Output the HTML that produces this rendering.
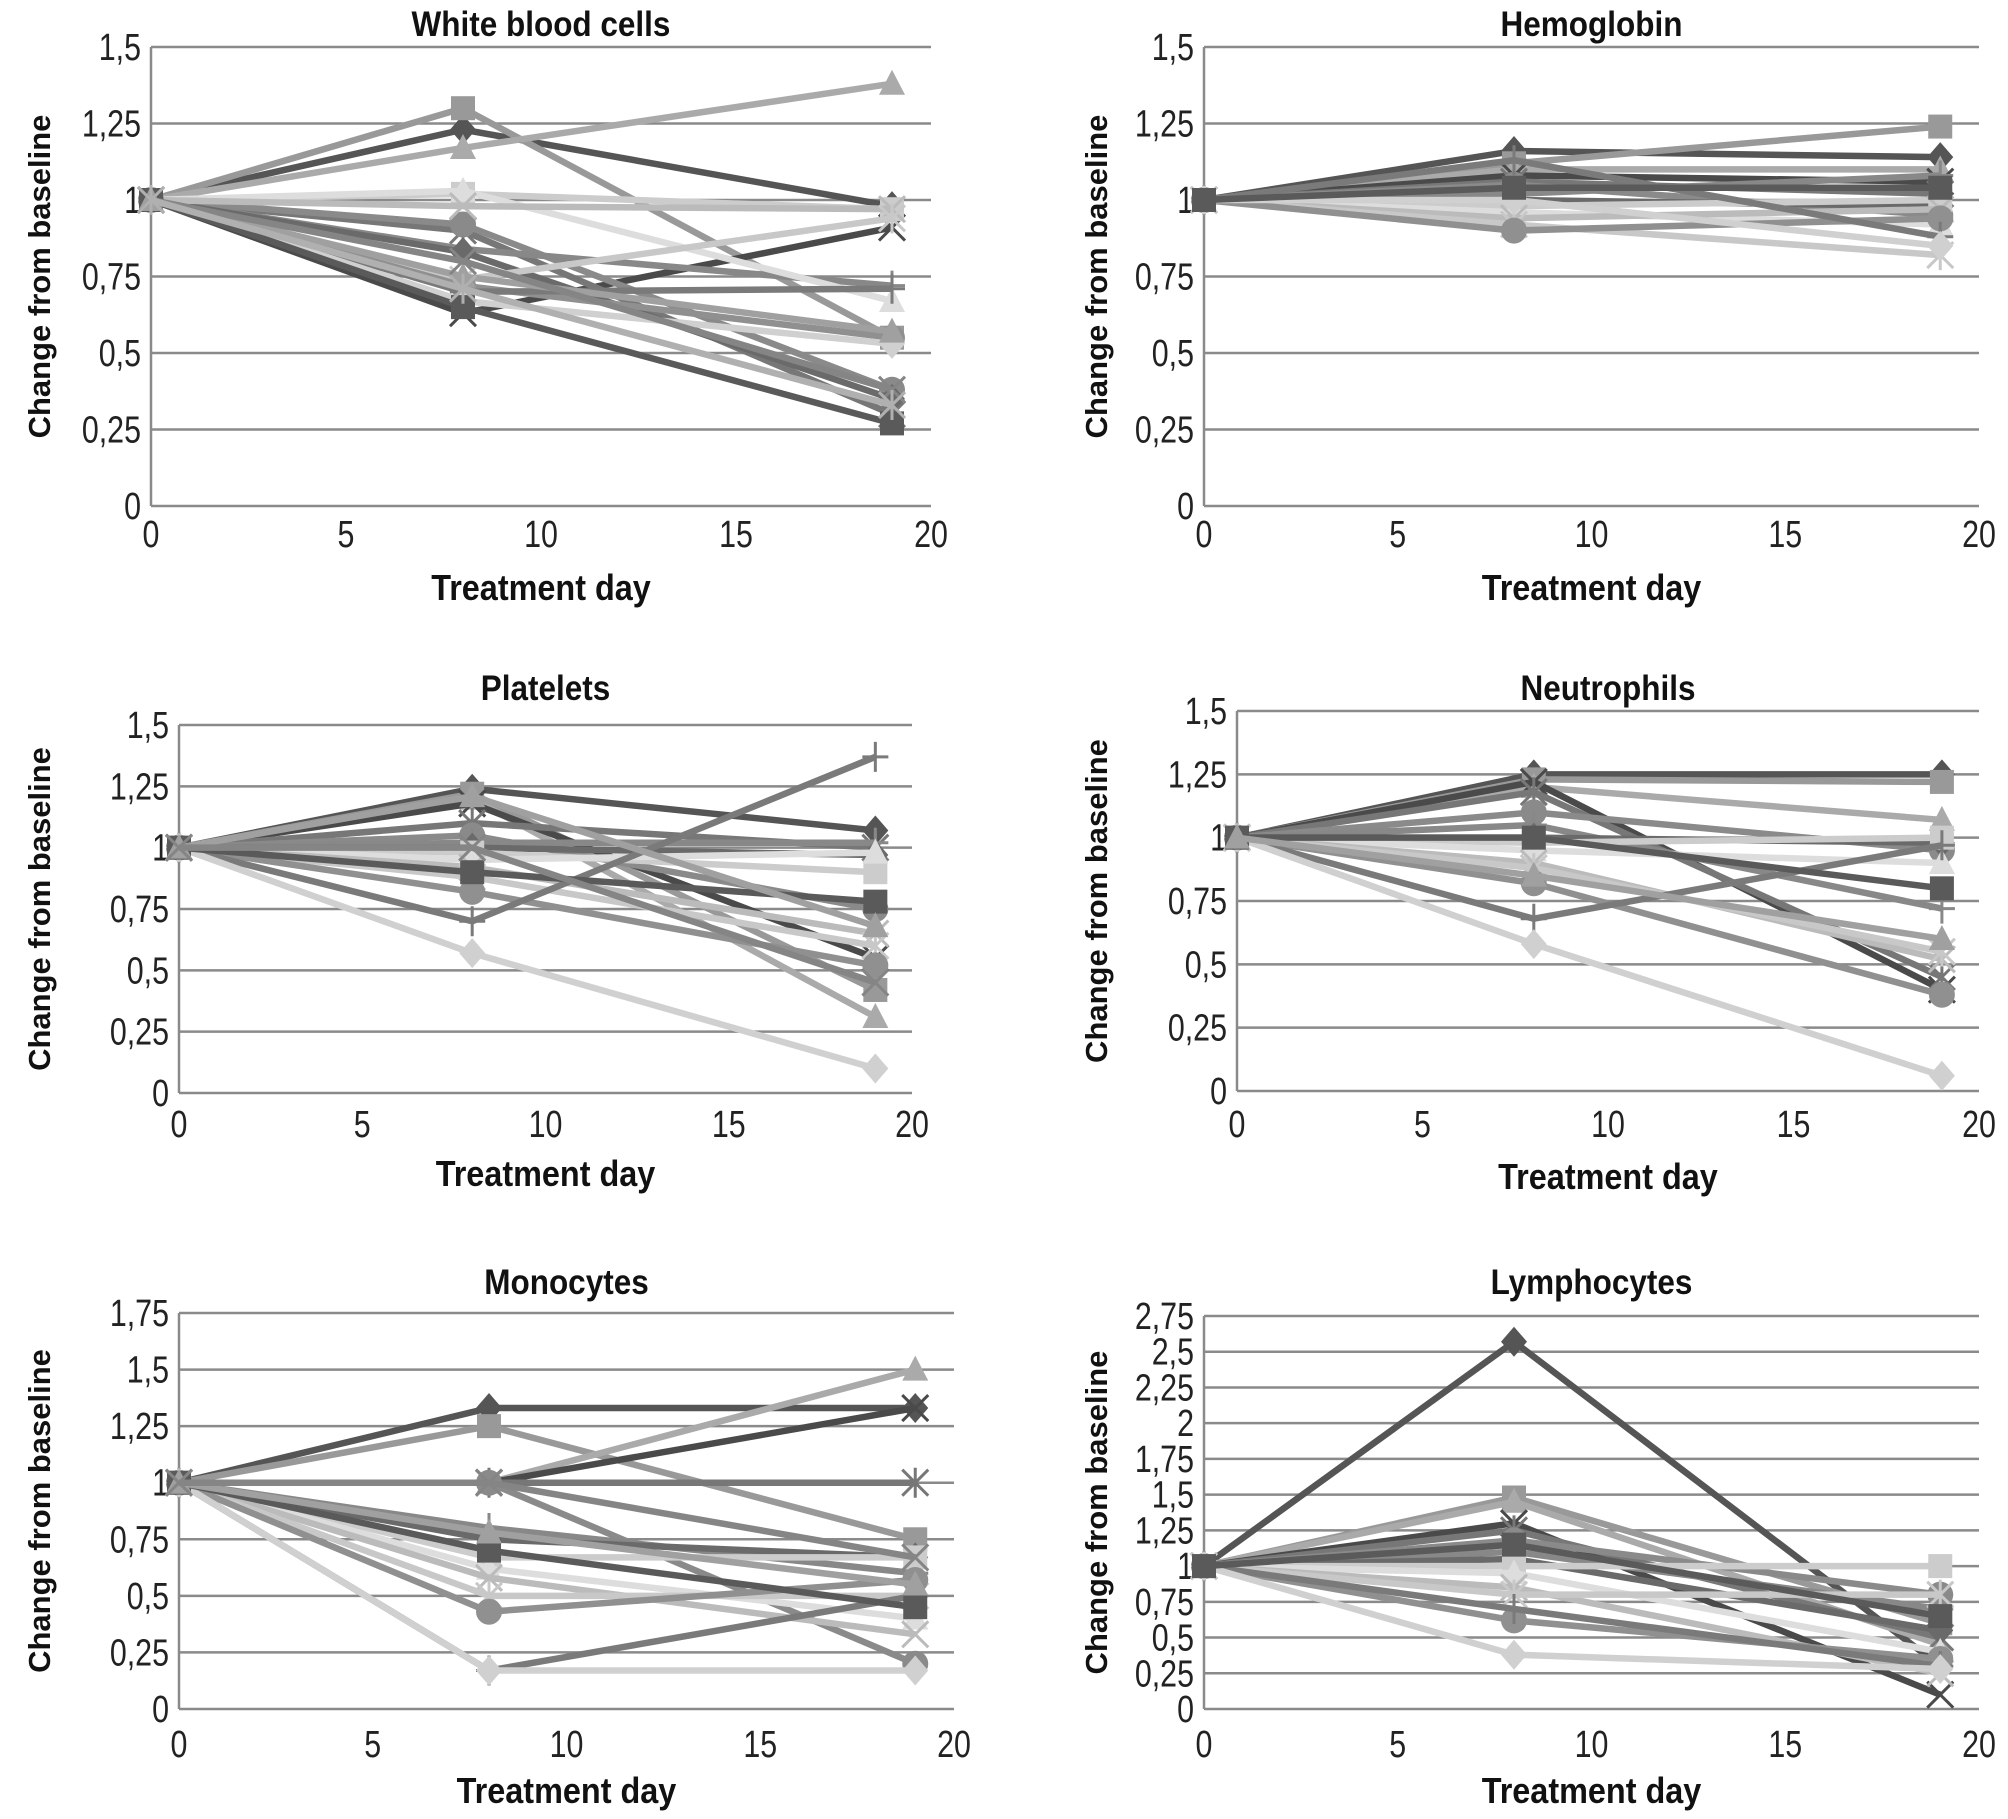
<!DOCTYPE html>
<html><head><meta charset="utf-8">
<style>
html,body{margin:0;padding:0;background:#fff;}
svg{display:block;}
text{font-family:"Liberation Sans",sans-serif;}
</style></head>
<body>
<svg id="fig" width="2008" height="1819" viewBox="0 0 2008 1819" xmlns="http://www.w3.org/2000/svg"></svg>
<script>
const days = [0, 8, 19];
const xTicks = [0, 5, 10, 15, 20];
const wbcD8  = [1.23,1.30,1.17,0.63,0.90,0.92,0.84,0.83,1.02,1.03,0.98,0.74,0.72,0.70,0.67,0.65,0.75,0.80,0.71];
const wbcD19 = [0.98,0.55,1.38,0.91,0.30,0.38,0.72,0.35,0.97,0.67,0.97,0.94,0.55,0.71,0.53,0.27,0.57,0.38,0.33];
const hgbD8  = [1.16,1.12,1.10,1.08,1.06,1.05,1.02,1.00,0.98,0.96,0.94,0.92,0.90,1.13,1.00,1.04];
const hgbD19 = [1.14,1.24,1.10,1.06,1.02,0.95,1.08,0.98,1.00,0.92,0.97,0.82,0.94,0.88,0.85,1.04];
const pltD8  = [1.24,1.22,1.20,1.18,1.10,1.05,1.02,1.00,0.98,0.95,0.92,0.88,0.82,0.70,0.57,0.90,1.21,1.00];
const pltD19 = [1.07,0.42,0.31,0.55,1.00,0.75,1.02,0.97,0.90,0.98,0.65,0.60,0.52,1.37,0.10,0.78,0.68,0.45];
const neuD8  = [1.25,1.23,1.20,1.22,1.18,1.10,1.05,1.00,0.98,0.95,0.90,0.88,0.82,0.68,0.58,1.00,0.85];
const neuD19 = [1.25,1.22,1.07,0.40,0.45,0.95,0.72,0.98,1.00,0.90,0.52,0.55,0.38,0.97,0.06,0.80,0.60];
const monD8  = [1.33,1.25,1.00,1.00,1.00,1.00,0.80,0.75,0.67,0.62,0.58,0.50,0.43,0.17,0.17,0.70,0.78,1.00];
const monD19 = [1.33,0.75,1.50,1.33,1.00,0.20,0.60,0.67,0.67,0.40,0.33,0.50,0.57,0.50,0.17,0.45,0.55,0.67];
const lymD8  = [2.57,1.48,1.45,1.30,1.25,1.18,1.10,1.05,1.00,0.95,0.85,0.80,0.62,0.70,0.38,1.15];
const lymD19 = [0.30,0.60,0.45,0.10,0.50,0.80,0.70,0.55,1.00,0.40,0.25,0.80,0.35,0.30,0.28,0.65];

const greys = ['#555','#999','#aaa','#4a4a4a','#777','#8a8a8a','#888','#6a6a6a','#ccc','#ddd','#bbb','#c8c8c8','#909090','#7a7a7a','#d0d0d0','#5a5a5a','#a0a0a0','#858585','#b0b0b0'];
const markers = ['diamond','square','triangle','x','star','circle','plus'];

const panels = [
 {name:'White blood cells',key:'wbc',d8:wbcD8,d19:wbcD19,x0:151,x1:931,yTop:47,yBot:506,yMax:1.5,titleY:36,tickY:547,xtY:600,ytX:50},
 {name:'Hemoglobin',key:'hgb',d8:hgbD8,d19:hgbD19,x0:1204,x1:1979,yTop:47,yBot:506,yMax:1.5,titleY:36,tickY:547,xtY:600,ytX:1107},
 {name:'Platelets',key:'plt',d8:pltD8,d19:pltD19,x0:179,x1:912,yTop:725,yBot:1093,yMax:1.5,titleY:700,tickY:1137,xtY:1186,ytX:50},
 {name:'Neutrophils',key:'neu',d8:neuD8,d19:neuD19,x0:1237,x1:1979,yTop:711,yBot:1091,yMax:1.5,titleY:700,tickY:1137,xtY:1189,ytX:1107},
 {name:'Monocytes',key:'mon',d8:monD8,d19:monD19,x0:179,x1:954,yTop:1313,yBot:1709,yMax:1.75,titleY:1294,tickY:1757,xtY:1803,ytX:50},
 {name:'Lymphocytes',key:'lym',d8:lymD8,d19:lymD19,x0:1204,x1:1979,yTop:1316,yBot:1709,yMax:2.75,titleY:1294,tickY:1757,xtY:1803,ytX:1107}
];
const NS='http://www.w3.org/2000/svg';
const svg=document.getElementById('fig');
function mk(tag,attrs,parent){const e=document.createElementNS(NS,tag);for(const k in attrs)e.setAttribute(k,attrs[k]);(parent||svg).appendChild(e);return e;}
function fmt(v){return String(+v.toFixed(2)).replace('.',',');}
function sx(x,f){return `translate(${x},0) scale(${f},1) translate(${-x},0)`;}

function marker(g,type,cx,cy,col){
  const s=13;let e;
  if(type==='diamond')e=mk('polygon',{points:`${cx},${cy-s-2} ${cx+s},${cy} ${cx},${cy+s+2} ${cx-s},${cy}`,fill:col},g);
  else if(type==='square')e=mk('rect',{x:cx-s+1,y:cy-s+1,width:2*s-2,height:2*s-2,fill:col},g);
  else if(type==='triangle')e=mk('polygon',{points:`${cx},${cy-s-1} ${cx+s},${cy+s-2} ${cx-s},${cy+s-2}`,fill:col},g);
  else if(type==='circle')e=mk('circle',{cx:cx,cy:cy,r:s,fill:col},g);
  else if(type==='x')e=mk('path',{d:`M${cx-s} ${cy-s}L${cx+s} ${cy+s}M${cx-s} ${cy+s}L${cx+s} ${cy-s}`,stroke:col,'stroke-width':3,fill:'none'},g);
  else if(type==='plus')e=mk('path',{d:`M${cx} ${cy-s-2}L${cx} ${cy+s+2}M${cx-s} ${cy}L${cx+s} ${cy}`,stroke:col,'stroke-width':3,fill:'none'},g);
  else e=mk('path',{d:`M${cx-s} ${cy-s}L${cx+s} ${cy+s}M${cx-s} ${cy+s}L${cx+s} ${cy-s}M${cx} ${cy-s-2}L${cx} ${cy+s+2}`,stroke:col,'stroke-width':3,fill:'none'},g);
  
  
}

panels.forEach(p=>{
  const g=mk('g',{});
  
  
  const xs=d=>p.x0+(d/20)*(p.x1-p.x0);
  const ys=v=>p.yBot-(v/p.yMax)*(p.yBot-p.yTop);
  for(let v=0;v<=p.yMax+1e-9;v+=0.25){
    const y=ys(v);
    const gl=mk('line',{x1:p.x0,x2:p.x1,y1:y,y2:y,stroke:'#8a8a8a','stroke-width':2.5},g);
    
    
    const t=mk('text',{x:p.x0-10,y:y+13,'text-anchor':'end','font-size':38,fill:'#222',transform:sx(p.x0-10,0.8)},g);
    t.textContent=fmt(v);
    
    
  }
  const ax=mk('line',{x1:p.x0,x2:p.x0,y1:p.yTop,y2:p.yBot,stroke:'#8a8a8a','stroke-width':2.5},g);
  
  
  xTicks.forEach(d=>{
    const t=mk('text',{x:xs(d),y:p.tickY,'text-anchor':'middle','font-size':38,fill:'#222',transform:sx(xs(d),0.8)},g);
    t.textContent=d;
    
    
  });
  const cx=(p.x0+p.x1)/2;
  const tt=mk('text',{x:cx,y:p.titleY,'text-anchor':'middle','font-size':35,'font-weight':'bold',fill:'#111',transform:sx(cx,0.9)},g);
  tt.textContent=p.name;
  
  
  const xt=mk('text',{x:cx,y:p.xtY,'text-anchor':'middle','font-size':36,'font-weight':'bold',fill:'#111',transform:sx(cx,0.9)},g);
  xt.textContent='Treatment day';
  
  
  const ym=(p.yTop+p.yBot)/2;
  const yt=mk('text',{x:p.ytX,y:ym,'text-anchor':'middle','font-size':31,'font-weight':'bold',fill:'#111',transform:`rotate(-90 ${p.ytX} ${ym})`},g);
  yt.textContent='Change from baseline';
  
  
  p.d8.forEach((v8,i)=>{
    const vals=[1,v8,p.d19[i]];
    const col=greys[i%greys.length];
    const sg=mk('g',{},g);
    
    
    const pts=vals.map((v,j)=>xs(days[j])+','+ys(v)).join(' ');
    const pl=mk('polyline',{points:pts,fill:'none',stroke:col,'stroke-width':6.5,'stroke-linejoin':'round'},sg);
    
    
    vals.forEach((v,j)=>marker(sg,markers[i%markers.length],xs(days[j]),ys(v),col));
  });
});
</script>
</body></html>
